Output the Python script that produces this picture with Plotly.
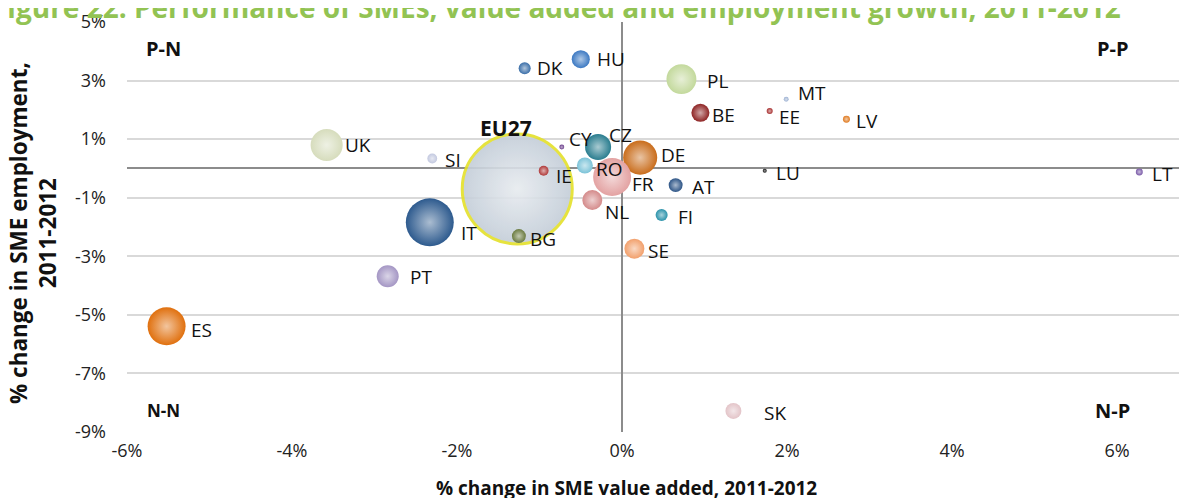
import numpy as np
import plotly.graph_objects as go

# data (percent change 2011-2012)
countries = ["EU27", "DK", "HU", "PL", "MT", "BE", "EE", "LV", "UK", "SI", "CY", "CZ",
             "RO", "DE", "IE", "FR", "AT", "LU", "LT", "NL", "FI", "IT", "BG", "SE",
             "PT", "ES", "SK"]
value_added = [-1.27, -1.18, -0.50, 0.72, 1.99, 0.95, 1.79, 2.72, -3.58, -2.30, -0.73, -0.29,
               -0.45, 0.22, -0.95, -0.12, 0.65, 1.73, 6.27, -0.36, 0.48, -2.33, -1.25, 0.15,
               -2.84, -5.52, 1.35]
employment = [-0.70, 3.42, 3.73, 3.05, 2.36, 1.90, 1.96, 1.68, 0.80, 0.34, 0.73, 0.73,
              0.10, 0.37, -0.08, -0.29, -0.57, -0.08, -0.12, -1.08, -1.59, -1.84, -2.31, -2.74,
              -3.68, -5.39, -8.28]
# relative bubble size (area), EU27 = 100
bubble = [100, 1.2, 2.7, 7.4, 0.2, 2.7, 0.3, 0.4, 8.5, 0.8, 0.2, 5.6,
          2.1, 9.6, 0.8, 11.9, 1.6, 0.13, 0.4, 3.3, 1.2, 19.0, 1.6, 3.3,
          4.0, 11.9, 2.1]

x_ticks = [-6, -4, -2, 0, 2, 4, 6]
y_ticks = [-9, -7, -5, -3, -1, 1, 3, 5]

quadrants = ["P-N", "P-P", "N-N", "N-P"]
quad_x = [-5.56, 5.95, -5.56, 5.94]
quad_y = [4.09, 4.09, -8.26, -8.26]

colors = ["#c3cdd8", "#3a6ea8", "#3b78c2", "#c3d99c", "#9fb3d3", "#8e2323", "#a83030", "#e07b22",
          "#d6dcbc", "#c3c9e0", "#6a3d8a", "#2a7d8f", "#7cc3d8", "#c96d1c", "#b03a3a", "#e3a2a2",
          "#2c5486", "#111111", "#7a5aa8", "#d48a8a", "#2a92aa", "#2d5a8e", "#6b7b40", "#f2a06c",
          "#a496c4", "#e0700e", "#e3c4c8"]

# label offsets from bubble centre, in pixels (right, down)
label_dx = [-11, 10, 14, 24, 10, 10, 7, 8, 16, 11, 5, 9,
            9, 19, 10, 18, 14, 9, 11, 11, 14, 29, 9, 12,
            20, 22, 29]
label_dy = [-61, 0, 0, 2, -6, 2, 6, 2, 0, 2, -8, -12,
            3, -3, 5, 7, 2, 2, 2, 12, 2, 11, 3, 2,
            1, 4, 2]


def lighten(hex_color, amount):
    c = np.array([int(hex_color[i:i + 2], 16) for i in (1, 3, 5)], dtype=float)
    c = c + (255 - c) * amount
    return "#%02x%02x%02x" % tuple(int(v) for v in c)


centre_colors = [lighten(c, 0.6) for c in colors]
line_colors = ["#e4e02a"] + ["rgba(0,0,0,0)"] * (len(countries) - 1)
line_widths = [3] + [0] * (len(countries) - 1)
opacities = [0.9] + [1.0] * (len(countries) - 1)

fig = go.Figure()
fig.add_trace(go.Scatter(
    x=value_added, y=employment,
    mode="markers",
    marker=dict(
        size=bubble,
        sizemode="area",
        sizeref=2 * max(bubble) / 110 ** 2,
        color=colors,
        opacity=opacities,
        gradient=dict(type="radial", color=centre_colors),
        line=dict(color=line_colors, width=line_widths),
    ),
    cliponaxis=False,
    text=countries,
    hoverinfo="text+x+y",
    showlegend=False,
))

for name, vx, vy, dx, dy in zip(countries, value_added, employment, label_dx, label_dy):
    is_eu = name == "EU27"
    fig.add_annotation(
        x=vx, y=vy, text="<b>%s</b>" % name if is_eu else name,
        xanchor="center" if is_eu else "left", yanchor="middle",
        xshift=dx, yshift=-dy, showarrow=False,
        font=dict(family="Open Sans, sans-serif", size=21 if is_eu else 19, color="#111"),
    )

for q, qx, qy in zip(quadrants, quad_x, quad_y):
    if q == "N-N":
        qfont = dict(family="Open Sans, sans-serif", size=17, color="#111")
    else:
        qfont = dict(family="Liberation Sans Narrow, Open Sans", size=20, color="#111")
    fig.add_annotation(x=qx, y=qy, text="<b>%s</b>" % q, showarrow=False, font=qfont)

fig.add_annotation(
    xref="paper", yref="paper", x=0, y=1, xanchor="left", yanchor="bottom",
    xshift=-137, yshift=-6,
    text="<b>Figure 22: Performance of SMEs, value added and employment growth, 2011-2012</b>",
    showarrow=False, font=dict(family="Open Sans, sans-serif", size=28, color="#92c353"),
)
fig.add_annotation(
    xref="paper", yref="paper", x=0, y=0.5, xanchor="center", yanchor="middle",
    xshift=-94, yshift=-6, textangle=-90, align="center",
    text="<b>% change in SME employment,<br>2011-2012</b>",
    showarrow=False, font=dict(family="Open Sans, sans-serif", size=22.5, color="#111"),
)
fig.add_annotation(
    x=0.05, yref="paper", y=0, yanchor="top", yshift=-41,
    text="<b>% change in SME value added, 2011-2012</b>",
    showarrow=False, font=dict(family="Open Sans, sans-serif", size=19, color="#111"),
)

fig.update_layout(
    width=1187, height=498,
    margin=dict(l=119, r=0, t=14, b=74),
    paper_bgcolor="white", plot_bgcolor="white",
    font=dict(family="Open Sans, sans-serif", size=18, color="#222"),
    xaxis=dict(
        range=[-6, 6.945], tickvals=x_ticks, ticktext=["%d%%" % v for v in x_ticks],
        showgrid=False, zeroline=True, zerolinecolor="#8c8c8c", zerolinewidth=1.5,
        showline=False, ticklabelstandoff=6,
    ),
    yaxis=dict(
        range=[-9, 5], tickvals=y_ticks, ticktext=["%d%%" % v for v in y_ticks],
        showgrid=True, gridcolor="#d9d9d9", gridwidth=1.5,
        zeroline=True, zerolinecolor="#8c8c8c", zerolinewidth=1.5,
        showline=False, ticklabelstandoff=20,
    ),
)

fig.write_html("out.html")
